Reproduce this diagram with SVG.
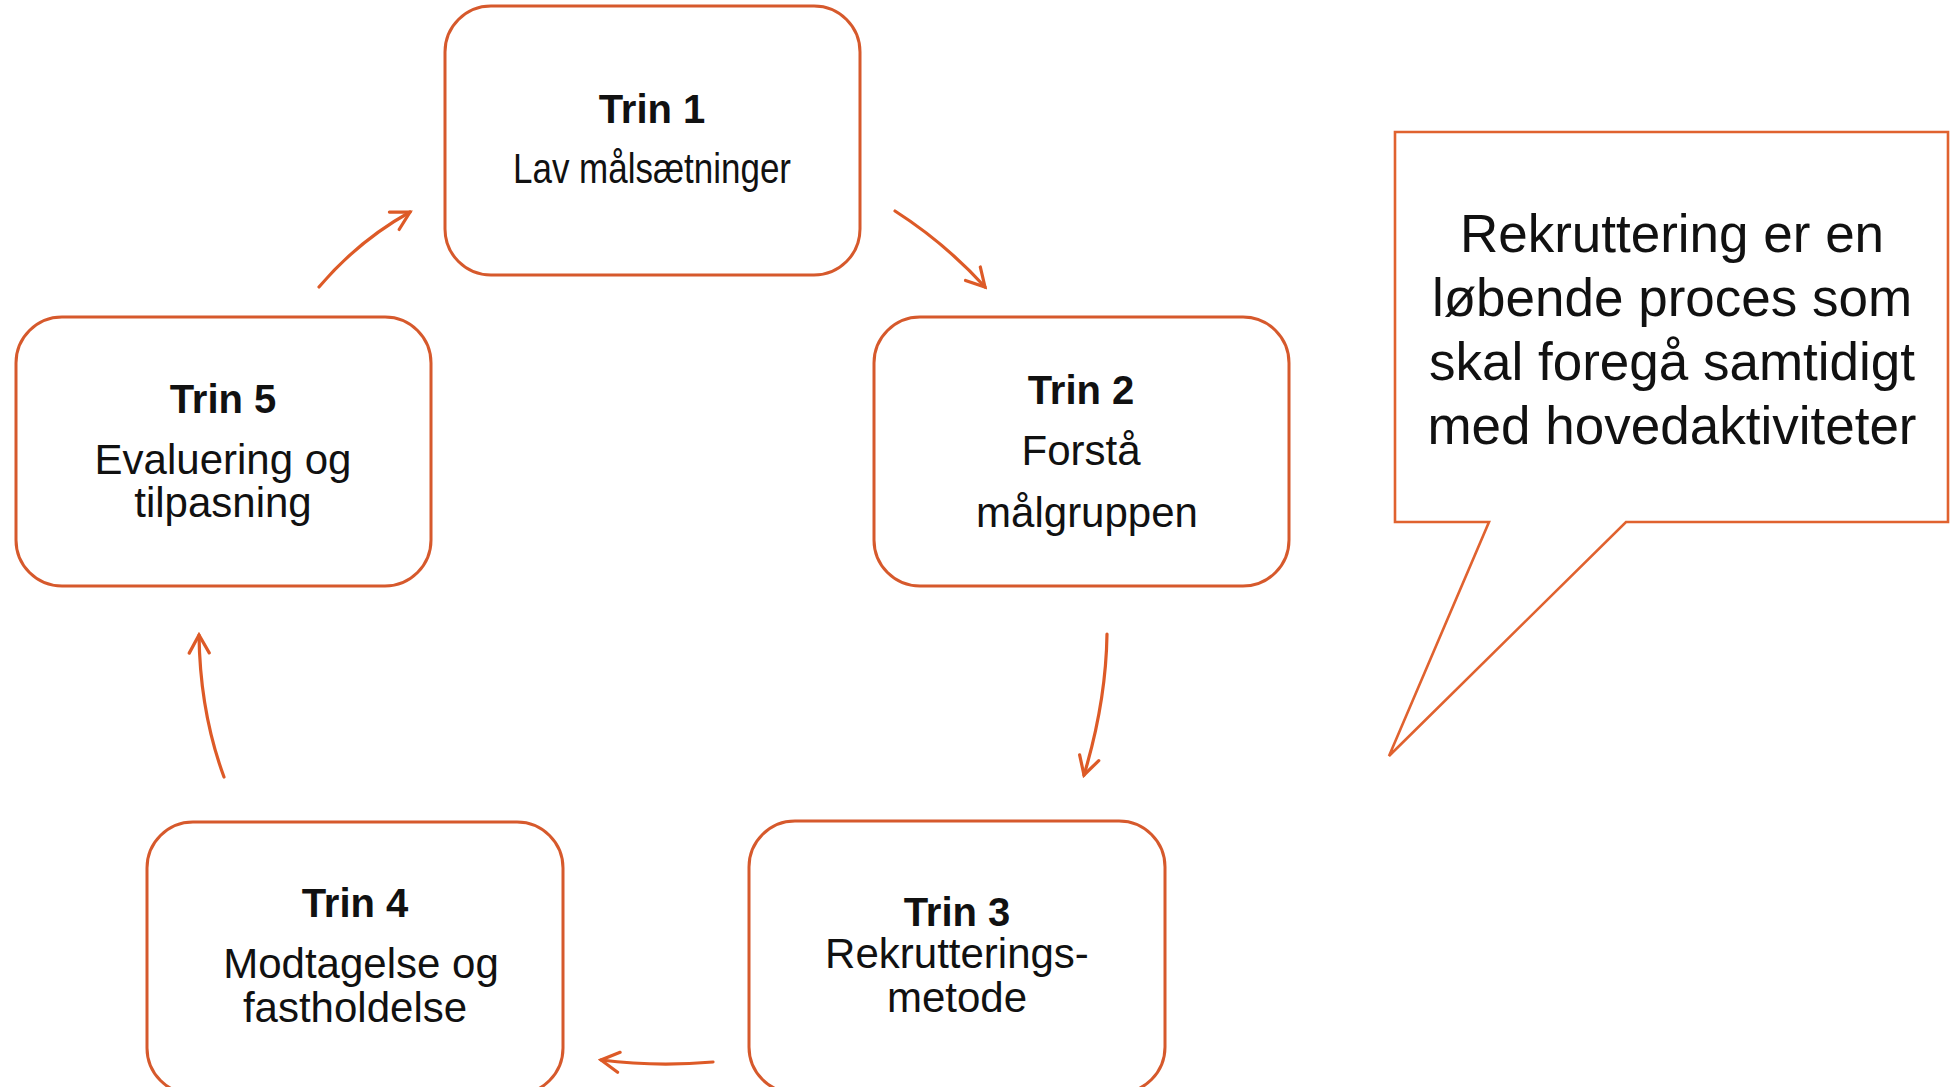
<svg xmlns="http://www.w3.org/2000/svg" width="1957" height="1087" viewBox="0 0 1957 1087">
  <style>
    .box { fill: #ffffff; stroke: #D6592C; stroke-width: 3; }
    .bubble { fill: #ffffff; stroke: #E0622F; stroke-width: 2.6; stroke-linejoin: miter; }
    .conn { fill: none; stroke: #DD5A27; stroke-width: 3.2; stroke-linecap: round; }
    .title { font-family: "Liberation Sans", Arial, sans-serif; font-weight: bold; font-size: 40px; fill: #111111; text-anchor: middle; }
    .body { font-family: "Liberation Sans", Arial, sans-serif; font-size: 42px; fill: #111111; text-anchor: middle; }
    .note { font-family: "Liberation Sans", Arial, sans-serif; font-size: 53px; fill: #111111; text-anchor: middle; }
  </style>
  <defs>
    <marker id="arrow" viewBox="0 0 24 24" refX="21" refY="12" markerWidth="24" markerHeight="24" markerUnits="userSpaceOnUse" orient="auto">
      <path d="M3,2 L21,12 L3,22" fill="none" stroke="#DD5A27" stroke-width="3.2" stroke-linecap="round" stroke-linejoin="miter"/>
    </marker>
  </defs>

  <g id="connectors">
    <path class="conn" d="M319,287 Q358,241 410,212" marker-end="url(#arrow)"/>
    <path class="conn" d="M895,211 Q945,243 985,287" marker-end="url(#arrow)"/>
    <path class="conn" d="M1107,634 Q1106,702 1084,775" marker-end="url(#arrow)"/>
    <path class="conn" d="M713,1062 Q656,1067 601,1060" marker-end="url(#arrow)"/>
    <path class="conn" d="M224,777 Q200,712 199,635" marker-end="url(#arrow)"/>
  </g>

  <g id="trin1">
    <rect class="box" x="445" y="6" width="415" height="269" rx="46" ry="46"/>
    <text class="title" x="652" y="123">Trin 1</text>
    <text class="body" x="652" y="183" textLength="278" lengthAdjust="spacingAndGlyphs">Lav målsætninger</text>
  </g>

  <g id="trin2">
    <rect class="box" x="874" y="317" width="415" height="269" rx="46" ry="46"/>
    <text class="title" x="1081" y="404">Trin 2</text>
    <text class="body" x="1081" y="465">Forstå</text>
    <text class="body" x="1087" y="527">målgruppen</text>
  </g>

  <g id="trin3">
    <rect class="box" x="749" y="821" width="416" height="272" rx="46" ry="46"/>
    <text class="title" x="957" y="926">Trin 3</text>
    <text class="body" x="957" y="968">Rekrutterings-</text>
    <text class="body" x="957" y="1012">metode</text>
  </g>

  <g id="trin4">
    <rect class="box" x="147" y="822" width="416" height="272" rx="46" ry="46"/>
    <text class="title" x="355" y="917">Trin 4</text>
    <text class="body" x="361" y="978">Modtagelse og</text>
    <text class="body" x="355" y="1022">fastholdelse</text>
  </g>

  <g id="trin5">
    <rect class="box" x="16" y="317" width="415" height="269" rx="46" ry="46"/>
    <text class="title" x="223" y="413">Trin 5</text>
    <text class="body" x="223" y="474">Evaluering og</text>
    <text class="body" x="223" y="517">tilpasning</text>
  </g>

  <g id="note">
    <path class="bubble" d="M1395,132 L1948,132 L1948,522 L1626,522 L1389,756 L1489,522 L1395,522 Z"/>
    <text class="note" x="1672" y="252">Rekruttering er en</text>
    <text class="note" x="1672" y="316">løbende proces som</text>
    <text class="note" x="1672" y="380">skal foregå samtidigt</text>
    <text class="note" x="1672" y="444">med hovedaktiviteter</text>
  </g>
</svg>
